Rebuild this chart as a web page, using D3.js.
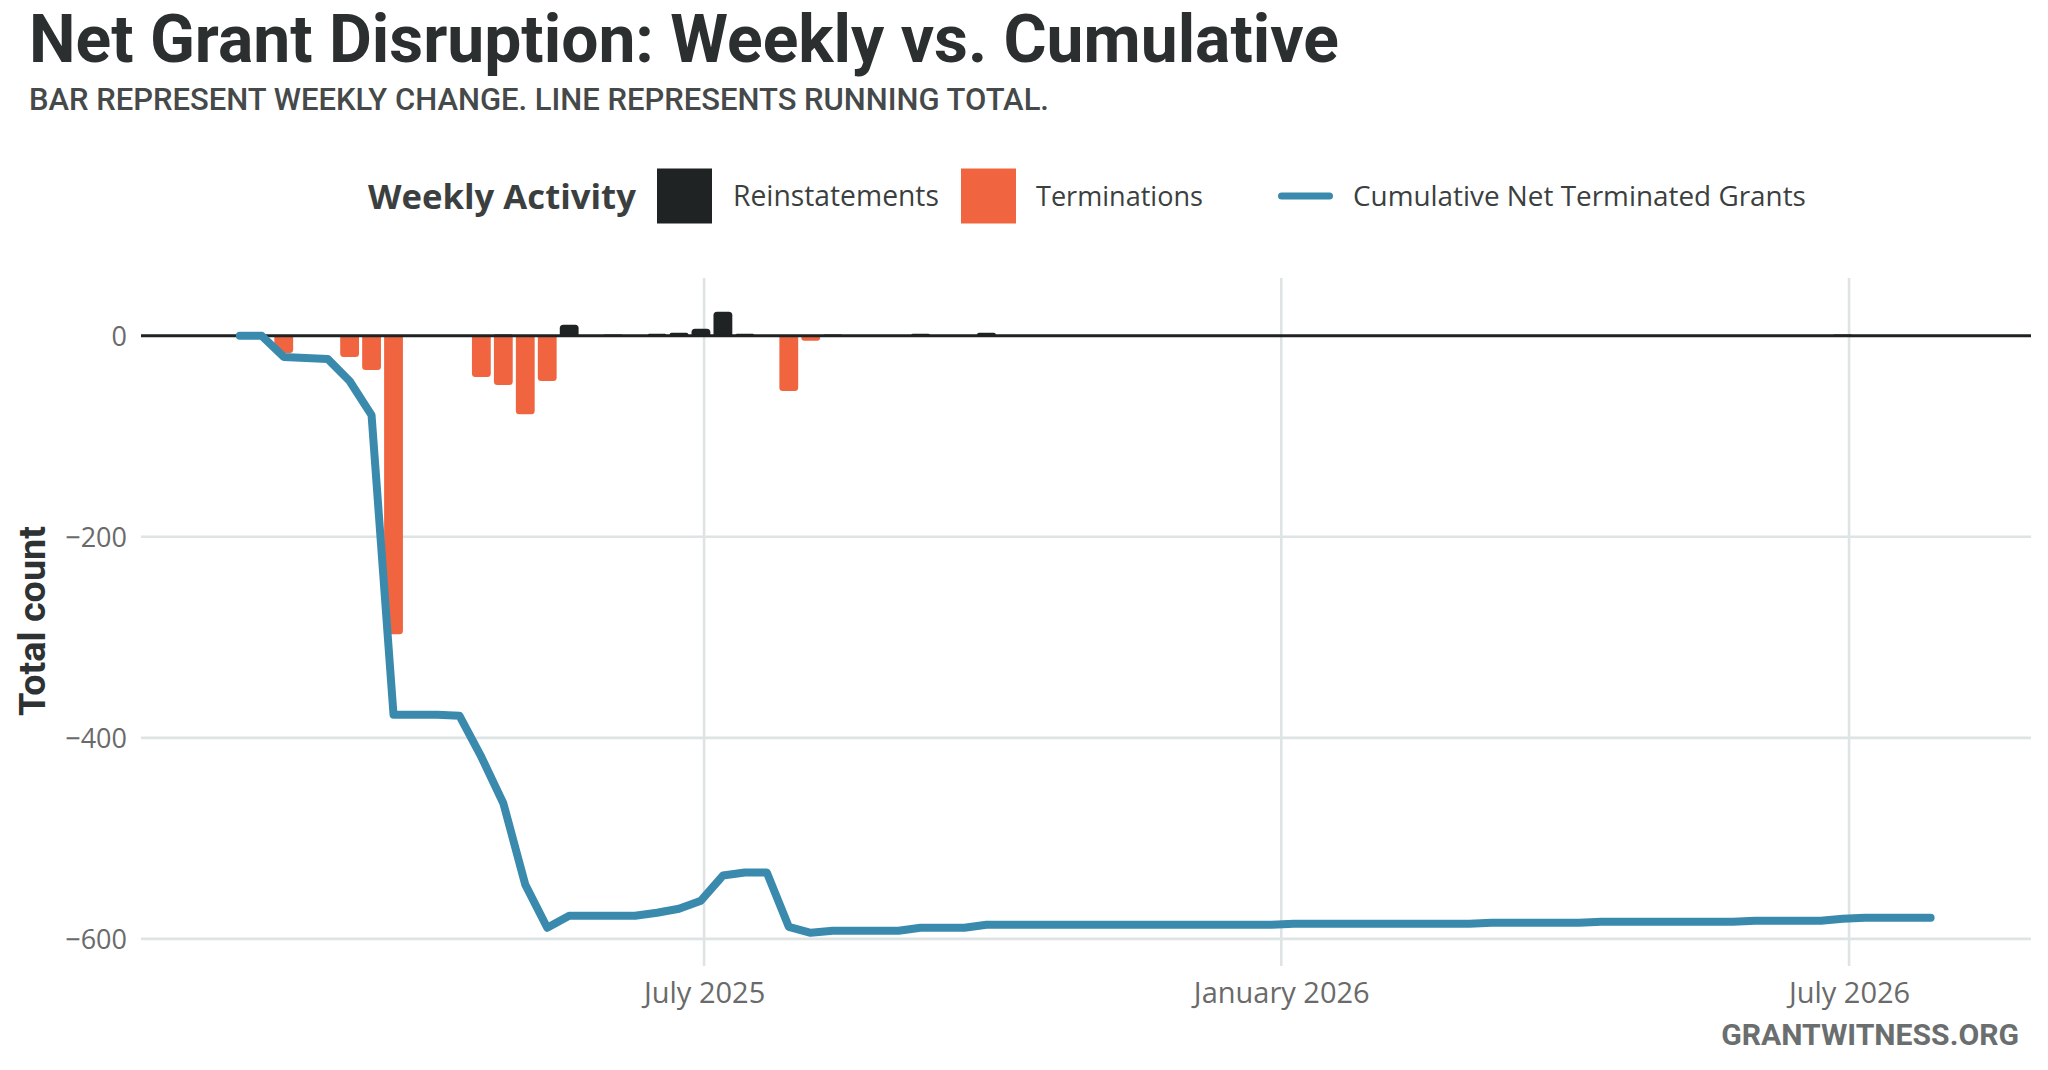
<!DOCTYPE html>
<html><head><meta charset="utf-8">
<script src="https://cdn.jsdelivr.net/npm/d3@7"></script>
<style>body{margin:0;background:#fff;} svg{display:block}</style>
</head><body>
<svg id="chart" width="2048" height="1070"></svg>
<script>
// ---------------- DATA ----------------
const weekDates = [
 "2025-02-03","2025-02-10","2025-02-17","2025-02-24","2025-03-03","2025-03-10","2025-03-17","2025-03-24","2025-03-31",
 "2025-04-07","2025-04-14","2025-04-21","2025-04-28","2025-05-05","2025-05-12","2025-05-19","2025-05-26",
 "2025-06-02","2025-06-09","2025-06-16","2025-06-23","2025-06-30","2025-07-07","2025-07-14","2025-07-21","2025-07-28",
 "2025-08-04","2025-08-11","2025-08-18","2025-08-25","2025-09-01","2025-09-08","2025-09-15","2025-09-22","2025-09-29",
 "2025-10-06","2025-10-13","2025-10-20","2025-10-27","2025-11-03","2025-11-10","2025-11-17","2025-11-24",
 "2025-12-01","2025-12-08","2025-12-15","2025-12-22","2025-12-29",
 "2026-01-05","2026-01-12","2026-01-19","2026-01-26","2026-02-02","2026-02-09","2026-02-16","2026-02-23",
 "2026-03-02","2026-03-09","2026-03-16","2026-03-23","2026-03-30","2026-04-06","2026-04-13","2026-04-20","2026-04-27",
 "2026-05-04","2026-05-11","2026-05-18","2026-05-25","2026-06-01","2026-06-08","2026-06-15","2026-06-22","2026-06-29",
 "2026-07-06","2026-07-13","2026-07-20","2026-07-27"
];
const cumulativeNet = [
 0,0,-21,-22,-23,-45,-79,-377,-377,
 -377,-378,-419,-465,-546,-589,-577,-577,
 -577,-577,-574,-570,-562,-537,-534,-534,-588,
 -594,-592,-592,-592,-592,-589,-589,-589,-586,
 -586,-586,-586,-586,-586,-586,-586,-586,
 -586,-586,-586,-586,-586,
 -585,-585,-585,-585,-585,-585,-585,-585,
 -585,-584,-584,-584,-584,-584,-583,-583,-583,
 -583,-583,-583,-583,-582,-582,-582,-582,-580,
 -579,-579,-579,-579
];
const terminationWeeks  = ["2025-02-17","2025-03-10","2025-03-17","2025-03-24","2025-04-21","2025-04-28","2025-05-05","2025-05-12","2025-07-28","2025-08-04"];
const terminationCounts = [-17, -21, -34, -297, -41, -49, -78, -45, -55, -5];
const reinstatementWeeks  = ["2025-04-28","2025-05-19","2025-06-02","2025-06-16","2025-06-23","2025-06-30","2025-07-07","2025-07-14","2025-08-11","2025-09-08","2025-09-29","2026-06-29"];
const reinstatementCounts = [1, 11, 1, 2, 3, 7, 24, 2, 1, 2, 3, 1];
const yTickValues = [0, -200, -400, -600];
const xTickDates  = ["2025-07-01","2026-01-01","2026-07-01"];
const xTickLabels = ["July 2025","January 2026","July 2026"];
const seriesNames = ["Reinstatements","Terminations","Cumulative Net Terminated Grants"];

// ---------------- SETUP ----------------
const parse = d3.utcParse("%Y-%m-%d");
const colors = {reinst:"#1f2323", term:"#f06540", line:"#3a8aae", grid:"#dee3e3"};
const svg = d3.select("#chart");
const P = {left:141, right:2031, top:278, bottom:966};

const x = d3.scaleUtc().domain([new Date(Date.UTC(2025,0,2,12)), new Date(Date.UTC(2026,7,28))]).range([P.left, P.right]);
const y = d3.scaleLinear().domain([-627, 57.5]).range([P.bottom, P.top]);

function fitWidth(sel, w){
  const n = sel.node(); const cur = n.getComputedTextLength();
  const fs = parseFloat(sel.attr("font-size"));
  sel.attr("font-size", (fs * w / cur).toFixed(2));
}

// gridlines
const g = svg.append("g");
g.selectAll("line.hg").data(yTickValues.filter(v=>v!==0)).join("line")
  .attr("x1",P.left).attr("x2",P.right).attr("y1",d=>y(d)).attr("y2",d=>y(d))
  .attr("stroke",colors.grid).attr("stroke-width",2.6);
g.selectAll("line.vg").data(xTickDates.map(parse)).join("line")
  .attr("x1",d=>x(d)).attr("x2",d=>x(d)).attr("y1",P.top).attr("y2",P.bottom)
  .attr("stroke",colors.grid).attr("stroke-width",2.6);

// bars
function barPath(d, v){
  const x0 = x(d3.utcDay.offset(d,-3)), x1 = x(d3.utcDay.offset(d,3));
  const y0 = y(0), y1 = y(v);
  const h = Math.abs(y1-y0);
  const r = Math.min(3.5, h/2 + 0.5, (x1-x0)/2);
  const dir = v >= 0 ? -1 : 1;
  const far = y1;
  return `M${x0},${y0} L${x0},${far - dir*r} Q${x0},${far} ${x0+r},${far} L${x1-r},${far} Q${x1},${far} ${x1},${far - dir*r} L${x1},${y0} Z`;
}
const bars = svg.append("g");
bars.selectAll("path.t").data(terminationWeeks.map((d,i)=>({d:parse(d), v:terminationCounts[i]}))).join("path")
  .attr("d", o=>barPath(o.d, o.v)).attr("fill", colors.term);
bars.selectAll("path.r").data(reinstatementWeeks.map((d,i)=>({d:parse(d), v:reinstatementCounts[i]}))).join("path")
  .attr("d", o=>barPath(o.d, Math.max(o.v,1.2))).attr("fill", colors.reinst);

// zero line
svg.append("line").attr("x1",P.left).attr("x2",P.right).attr("y1",y(0)).attr("y2",y(0))
  .attr("stroke","#1e2222").attr("stroke-width",3);

// cumulative line
const lineData = weekDates.map((d,i)=>({d:parse(d), v:cumulativeNet[i]}));
svg.append("path").datum(lineData)
  .attr("d", d3.line().x(o=>x(o.d)).y(o=>y(o.v)))
  .attr("fill","none").attr("stroke",colors.line).attr("stroke-width",8)
  .attr("stroke-linejoin","round").attr("stroke-linecap","round");

// axes
const yAxis = svg.append("g").attr("transform",`translate(${P.left},0)`)
  .call(d3.axisLeft(y).tickValues(yTickValues).tickSize(0).tickPadding(14).tickFormat(d=>d3.format("d")(d)));
yAxis.select(".domain").remove();
yAxis.selectAll("text").attr("font-family","'Open Sans'").attr("font-size",27).attr("fill","#6a6a6a").attr("dy","0.36em");

const xAxis = svg.append("g").attr("transform",`translate(0,${P.bottom})`)
  .call(d3.axisBottom(x).tickValues(xTickDates.map(parse)).tickSize(0).tickPadding(16).tickFormat((d,i)=>xTickLabels[i]));
xAxis.select(".domain").remove();
xAxis.selectAll("text").attr("font-family","'Open Sans'").attr("font-size",29).attr("fill","#6a6a6a");

// y-axis title
const yt = svg.append("text").text("Total count")
  .attr("transform","translate(45,621) rotate(-90)").attr("text-anchor","middle")
  .attr("font-family","Roboto").attr("font-weight",700).attr("font-size",36).attr("fill","#2e3233");
fitWidth(yt, 190);

// title & subtitle
const title = svg.append("text").text("Net Grant Disruption: Weekly vs. Cumulative")
  .attr("x",29).attr("y",62).attr("font-family","Roboto").attr("font-weight",700)
  .attr("font-size",54).attr("fill","#2b2f30");
fitWidth(title, 1310);
const sub = svg.append("text").text("BAR REPRESENT WEEKLY CHANGE. LINE REPRESENTS RUNNING TOTAL.")
  .attr("x",29).attr("y",110).attr("font-family","Roboto").attr("font-weight",500)
  .attr("font-size",28).attr("fill","#45494a");
fitWidth(sub, 1020);

// legend
const lg = svg.append("g");
const lt = lg.append("text").text("Weekly Activity").attr("x",368).attr("y",209)
  .attr("font-family","'Open Sans'").attr("font-weight",700).attr("font-size",35).attr("fill","#3c3f40");
fitWidth(lt, 268);
lg.append("rect").attr("x",657).attr("y",168.5).attr("width",55).attr("height",55).attr("fill",colors.reinst);
const l1 = lg.append("text").text(seriesNames[0]).attr("x",733).attr("y",206)
  .attr("font-family","'Open Sans'").attr("font-size",28).attr("fill","#3c3f40");
fitWidth(l1, 206);
lg.append("rect").attr("x",961).attr("y",168.5).attr("width",55).attr("height",55).attr("fill",colors.term);
const l2 = lg.append("text").text(seriesNames[1]).attr("x",1036).attr("y",206)
  .attr("font-family","'Open Sans'").attr("font-size",28).attr("fill","#3c3f40");
fitWidth(l2, 167);
lg.append("line").attr("x1",1281.5).attr("x2",1329.5).attr("y1",196).attr("y2",196)
  .attr("stroke",colors.line).attr("stroke-width",7).attr("stroke-linecap","round");
const l3 = lg.append("text").text(seriesNames[2]).attr("x",1353).attr("y",206)
  .attr("font-family","'Open Sans'").attr("font-size",28).attr("fill","#3c3f40");
fitWidth(l3, 453);

// caption
const cap = svg.append("text").text("GRANTWITNESS.ORG").attr("x",2019).attr("y",1045)
  .attr("text-anchor","end").attr("font-family","Roboto").attr("font-weight",700)
  .attr("font-size",28).attr("fill","#6b6e6f");
fitWidth(cap, 298);
</script>
</body></html>
